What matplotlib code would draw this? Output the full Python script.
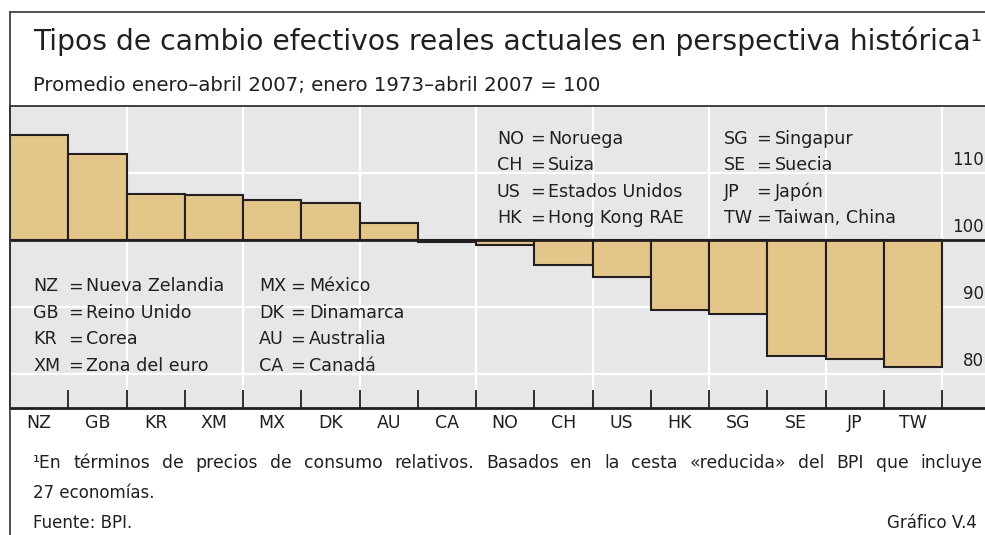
import matplotlib.pyplot as plt
from matplotlib.lines import Line2D

# values (index, Jan 1973 - Apr 2007 = 100)
codes = ['NZ', 'GB', 'KR', 'XM', 'MX', 'DK', 'AU', 'CA',
         'NO', 'CH', 'US', 'HK', 'SG', 'SE', 'JP', 'TW']
values = [115.7, 112.8, 106.9, 106.7, 106.0, 105.5, 102.6, 99.8,
          99.25, 96.3, 94.5, 89.6, 89.0, 82.7, 82.3, 81.1]
y_ticks = [80, 90, 100, 110]

# legend blocks
leg1_codes = ['NZ', 'GB', 'KR', 'XM']
leg1_names = ['Nueva Zelandia', 'Reino Unido', 'Corea', 'Zona del euro']
leg2_codes = ['MX', 'DK', 'AU', 'CA']
leg2_names = ['México', 'Dinamarca', 'Australia', 'Canadá']
leg3_codes = ['NO', 'CH', 'US', 'HK']
leg3_names = ['Noruega', 'Suiza', 'Estados Unidos', 'Hong Kong RAE']
leg4_codes = ['SG', 'SE', 'JP', 'TW']
leg4_names = ['Singapur', 'Suecia', 'Japón', 'Taiwan, China']

title = 'Tipos de cambio efectivos reales actuales en perspectiva histórica¹'
subtitle = 'Promedio enero–abril 2007; enero 1973–abril 2007 = 100'
note1 = ('¹En términos de precios de consumo relativos. Basados en la cesta '
         '«reducida» del BPI que incluye')
note2 = '27 economías.'
source = 'Fuente: BPI.'
chart_id = 'Gráfico V.4'

plt.rcParams['font.family'] = ['DejaVu Sans']
txt = '#231f20'
bar_col = '#e4c68b'
bg = '#e7e7ea'
W, H = 985, 535
px = 58.25          # pixels per bar
y0px, ypx = 240.7, 6.72   # pixel row of 100, pixels per index point


def dy(p):
    # pixel row -> data value
    return 100 + (y0px - p) / ypx


fig = plt.figure(figsize=(9.85, 5.35), dpi=100)
ax = fig.add_axes([10 / W, 127 / H, 975 / W, 302 / H])
ax.set_facecolor(bg)
ax.set_xlim(0, 975 / px)
ax.set_ylim(75, 120)

# grid
for y in y_ticks:
    if y != 100:
        ax.axhline(y, color='white', lw=1.6, zorder=1)
for x in range(2, 17, 2):
    ax.axvline(x, color='white', lw=1.6, zorder=1)

ax.bar(range(len(codes)), [v - 100 for v in values], bottom=100, width=1,
       align='edge', color=bar_col, edgecolor=txt, linewidth=1.5, zorder=3)
ax.axhline(100, color=txt, lw=2, zorder=4)

# y labels on the right, sitting on their grid lines
for y in y_ticks:
    ax.text((984 - 10) / px, y + 1.2, str(y), fontsize=12, color=txt,
            ha='right', va='baseline')

# x ticks: marks at bar boundaries, labels at bar centres
ax.set_xticks(range(1, 17))
ax.set_xticklabels([])
ax.tick_params(axis='x', which='major', direction='in', length=13,
               width=1.3, color=txt)
ax.set_xticks([i + 0.5 for i in range(len(codes))], minor=True)
ax.set_xticklabels(codes, minor=True, fontsize=12.5, color=txt)
ax.tick_params(axis='x', which='minor', length=0, pad=4.5)
ax.set_yticks([])

ax.spines['right'].set_visible(False)
ax.spines['left'].set_linewidth(1.2)
ax.spines['top'].set_linewidth(1.2)
ax.spines['bottom'].set_linewidth(2)
for s in ['left', 'top', 'bottom']:
    ax.spines[s].set_color(txt)


# legend blocks inside the plot
def legend_block(cx, ex, nx, ytop, cds, nms):
    for i, (c, n) in enumerate(zip(cds, nms)):
        y = dy(ytop + i * 26.5)
        kw = dict(fontsize=12.6, color=txt, va='baseline', zorder=5)
        ax.text((cx - 10) / px, y, c, **kw)
        ax.text((ex - 10) / px, y, '=', ha='center', **kw)
        ax.text((nx - 10) / px, y, n, **kw)


legend_block(33, 75, 86, 292, leg1_codes, leg1_names)
legend_block(259, 298, 309, 292, leg2_codes, leg2_names)
legend_block(497, 537, 548, 144.3, leg3_codes, leg3_names)
legend_block(724, 763, 775, 144.3, leg4_codes, leg4_names)

# outer frame
fig.add_artist(Line2D([10 / W, 10 / W], [0, 523 / H], color='#333333', lw=1.2))
fig.add_artist(Line2D([10 / W, 1], [523 / H, 523 / H], color='#333333', lw=1.2))

fig.text(33 / W, 1 - 50 / H, title, fontsize=20.3, color=txt, va='baseline')
fig.text(33 / W, 1 - 90.7 / H, subtitle, fontsize=14.2, color=txt, va='baseline')

# first footnote line is justified between x=33 and x=982
words = note1.split(' ')
wt = [fig.text(0, 1 - 468 / H, w, fontsize=12.4, color=txt, va='baseline')
      for w in words]
fig.canvas.draw()
r = fig.canvas.get_renderer()
widths = [t.get_window_extent(r).width for t in wt]
gap = (982 - 33 - sum(widths)) / (len(words) - 1)
xpos = 33
for t, w in zip(wt, widths):
    t.set_x(xpos / W)
    xpos += w + gap

fig.text(33 / W, 1 - 498 / H, note2, fontsize=12, color=txt, va='baseline')
fig.text(33 / W, 1 - 528 / H, source, fontsize=12, color=txt, va='baseline')
fig.text(977 / W, 1 - 528 / H, chart_id, fontsize=12, color=txt,
         va='baseline', ha='right')

fig.savefig('out.png', dpi=100, facecolor='white')
